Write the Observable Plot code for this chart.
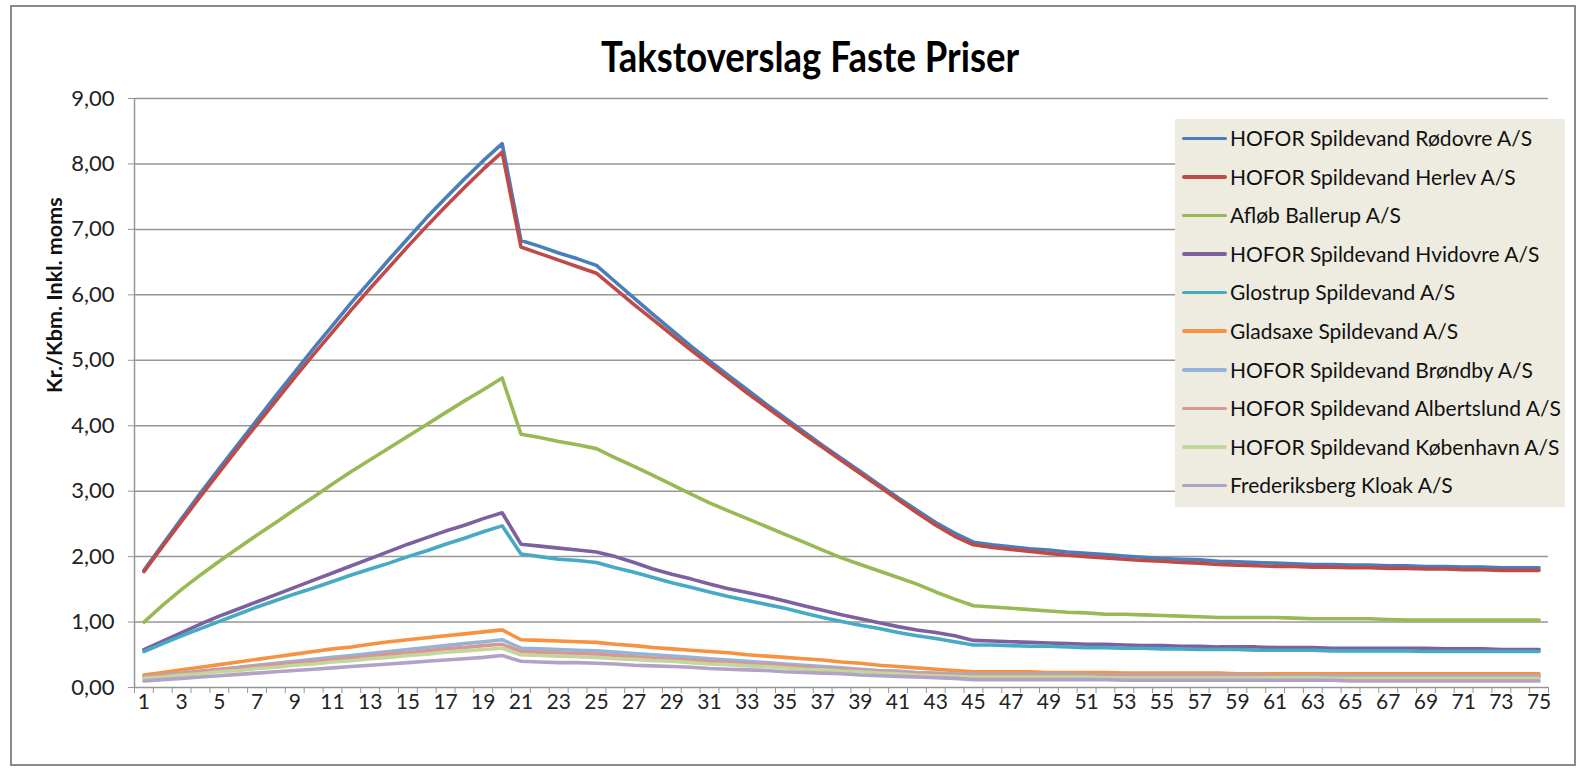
<!DOCTYPE html>
<html>
<head>
<meta charset="utf-8">
<script src="https://cdn.jsdelivr.net/npm/d3@7"></script>
<script src="https://cdn.jsdelivr.net/npm/@observablehq/plot@0.6"></script>
<style>
  html, body { margin: 0; padding: 0; background: #fff; }
  #wrap { position: relative; width: 1580px; height: 775px; overflow: hidden; font-family: Lato, "Noto Sans", sans-serif; }
  #frame { position: absolute; left: 10px; top: 5px; width: 1566px; height: 761px; border: 2px solid #8a8a8a; box-sizing: border-box; }
  #title { position: absolute; left: 810px; top: 56px; transform: translate(-50%, -50%) scaleY(1.15); font-weight: 700; font-size: 36.5px; color: #000; white-space: nowrap; }
  #chart { position: absolute; left: 0; top: 0; }
  #legend { position: absolute; left: 1175px; top: 119px; width: 390px; height: 388px; background: #EEECE1; }
  .row { position: relative; height: 38.6px; }
  .swatch { position: absolute; left: 7px; top: 17.5px; width: 45px; height: 3.5px; border-radius: 2px; }
  .lab { position: absolute; left: 55px; top: 0; line-height: 38.6px; font-size: 21px; color: #111; white-space: nowrap; }
</style>
</head>
<body>
<div id="wrap">
  <div id="frame"></div>
  <div id="chart"></div>
  <div id="title"></div>
  <div id="legend"></div>
</div>
<script>
const titleText = "Takstoverslag Faste Priser";
const yLabelText = "Kr./Kbm. Inkl. moms";

const steps = d3.range(1, 76);
const xTickLabels = d3.range(1, 76, 2);
const yTicks = [0, 1, 2, 3, 4, 5, 6, 7, 8, 9];

const seriesNames = [
  "HOFOR Spildevand Rødovre A/S",
  "HOFOR Spildevand Herlev A/S",
  "Afløb Ballerup A/S",
  "HOFOR Spildevand Hvidovre A/S",
  "Glostrup Spildevand A/S",
  "Gladsaxe Spildevand A/S",
  "HOFOR Spildevand Brøndby A/S",
  "HOFOR Spildevand Albertslund A/S",
  "HOFOR Spildevand København A/S",
  "Frederiksberg Kloak A/S"
];
const seriesColors = ["#4A7EBB", "#BE4B48", "#98B954", "#7D60A0", "#46AAC5", "#F69240", "#95B3D7", "#D99694", "#C3D69B", "#B3A2C7"];

const rodovre = [1.79, 2.19, 2.58, 2.97, 3.35, 3.72, 4.09, 4.46, 4.82, 5.18, 5.53, 5.88, 6.21, 6.54, 6.86, 7.18, 7.48, 7.77, 8.05, 8.31,
  6.83, 6.74, 6.64, 6.55, 6.45,
  6.20, 5.95, 5.70, 5.46, 5.22, 4.99, 4.77, 4.55, 4.33, 4.12, 3.91, 3.70, 3.50, 3.30, 3.10, 2.90, 2.71, 2.52, 2.36, 2.22,
  2.18, 2.15, 2.12, 2.10, 2.07, 2.05, 2.03, 2.01, 1.99, 1.97, 1.96, 1.95, 1.93, 1.92, 1.91, 1.90, 1.89, 1.88, 1.88, 1.87, 1.87, 1.86, 1.86, 1.85, 1.85, 1.84, 1.84, 1.83, 1.83, 1.83];
const herlev = [1.77, 2.16, 2.54, 2.92, 3.29, 3.66, 4.02, 4.38, 4.74, 5.09, 5.43, 5.77, 6.10, 6.42, 6.74, 7.05, 7.35, 7.64, 7.92, 8.18,
  6.73, 6.63, 6.53, 6.43, 6.33,
  6.09, 5.85, 5.62, 5.39, 5.16, 4.94, 4.72, 4.50, 4.29, 4.08, 3.87, 3.67, 3.47, 3.27, 3.07, 2.87, 2.67, 2.48, 2.31, 2.18,
  2.14, 2.11, 2.08, 2.05, 2.02, 2.00, 1.98, 1.96, 1.94, 1.93, 1.91, 1.90, 1.88, 1.87, 1.86, 1.85, 1.85, 1.84, 1.84, 1.83, 1.83, 1.82, 1.82, 1.81, 1.81, 1.80, 1.80, 1.79, 1.79, 1.79];
const ballerup = [1.00, 1.26, 1.50, 1.72, 1.93, 2.13, 2.33, 2.52, 2.72, 2.91, 3.11, 3.30, 3.48, 3.66, 3.84, 4.02, 4.20, 4.38, 4.55, 4.73,
  3.87, 3.82, 3.76, 3.71, 3.65, 3.51, 3.38, 3.24, 3.10, 2.96, 2.82, 2.70, 2.58, 2.46, 2.34, 2.22, 2.10, 1.98, 1.88, 1.78, 1.68, 1.58, 1.46, 1.35, 1.25,
  1.23, 1.21, 1.19, 1.17, 1.15, 1.14, 1.12, 1.12, 1.11, 1.10, 1.09, 1.08, 1.07, 1.07, 1.07, 1.07, 1.06, 1.05, 1.05, 1.05, 1.05, 1.04, 1.03, 1.03, 1.03, 1.03, 1.03, 1.03, 1.03, 1.03];
const hvidovre = [0.58, 0.71, 0.84, 0.97, 1.09, 1.20, 1.31, 1.42, 1.53, 1.64, 1.75, 1.86, 1.97, 2.08, 2.19, 2.29, 2.39, 2.48, 2.58, 2.67,
  2.19, 2.16, 2.13, 2.10, 2.07, 2.00, 1.91, 1.81, 1.73, 1.66, 1.58, 1.51, 1.45, 1.39, 1.32, 1.25, 1.18, 1.11, 1.05, 0.99, 0.93, 0.88, 0.84, 0.79, 0.72,
  0.71, 0.70, 0.69, 0.68, 0.67, 0.66, 0.66, 0.65, 0.64, 0.64, 0.63, 0.63, 0.62, 0.62, 0.62, 0.61, 0.61, 0.61, 0.60, 0.60, 0.60, 0.60, 0.60, 0.60, 0.59, 0.59, 0.59, 0.58, 0.58, 0.58];
const glostrup = [0.55, 0.67, 0.79, 0.90, 1.01, 1.12, 1.23, 1.33, 1.43, 1.52, 1.62, 1.72, 1.81, 1.90, 2.00, 2.09, 2.19, 2.28, 2.38, 2.47,
  2.04, 2.00, 1.96, 1.94, 1.91, 1.83, 1.76, 1.68, 1.60, 1.53, 1.46, 1.39, 1.33, 1.27, 1.21, 1.14, 1.07, 1.01, 0.95, 0.90, 0.84, 0.79, 0.75, 0.70, 0.65,
  0.65, 0.64, 0.63, 0.63, 0.62, 0.61, 0.61, 0.60, 0.60, 0.59, 0.59, 0.58, 0.58, 0.58, 0.57, 0.57, 0.57, 0.57, 0.56, 0.56, 0.56, 0.56, 0.56, 0.55, 0.55, 0.55, 0.55, 0.55, 0.55, 0.55];
const gladsaxe = [0.19, 0.23, 0.27, 0.31, 0.35, 0.39, 0.43, 0.47, 0.51, 0.55, 0.59, 0.62, 0.66, 0.70, 0.73, 0.76, 0.79, 0.82, 0.85, 0.88,
  0.73, 0.72, 0.71, 0.70, 0.69, 0.66, 0.64, 0.61, 0.59, 0.57, 0.55, 0.53, 0.50, 0.48, 0.46, 0.44, 0.42, 0.39, 0.37, 0.34, 0.32, 0.30, 0.28, 0.26, 0.24,
  0.24, 0.24, 0.24, 0.23, 0.23, 0.23, 0.23, 0.22, 0.22, 0.22, 0.22, 0.22, 0.22, 0.21, 0.21, 0.21, 0.21, 0.21, 0.21, 0.21, 0.21, 0.21, 0.21, 0.21, 0.21, 0.21, 0.21, 0.21, 0.21, 0.21];
const brondby = [0.16, 0.19, 0.22, 0.25, 0.28, 0.31, 0.34, 0.37, 0.40, 0.43, 0.46, 0.49, 0.52, 0.55, 0.58, 0.61, 0.64, 0.67, 0.70, 0.73,
  0.60, 0.59, 0.58, 0.57, 0.56, 0.54, 0.52, 0.50, 0.48, 0.46, 0.44, 0.42, 0.40, 0.38, 0.36, 0.34, 0.32, 0.30, 0.28, 0.26, 0.25, 0.23, 0.22, 0.21, 0.20,
  0.20, 0.20, 0.20, 0.20, 0.20, 0.19, 0.19, 0.19, 0.19, 0.19, 0.19, 0.19, 0.19, 0.19, 0.19, 0.18, 0.18, 0.18, 0.18, 0.18, 0.18, 0.18, 0.18, 0.18, 0.18, 0.18, 0.18, 0.18, 0.18, 0.18];
const albertslund = [0.15, 0.18, 0.21, 0.24, 0.27, 0.29, 0.32, 0.35, 0.37, 0.40, 0.43, 0.45, 0.48, 0.51, 0.53, 0.56, 0.59, 0.61, 0.64, 0.66,
  0.55, 0.54, 0.53, 0.52, 0.51, 0.49, 0.47, 0.45, 0.43, 0.42, 0.40, 0.38, 0.36, 0.35, 0.33, 0.31, 0.29, 0.28, 0.26, 0.24, 0.23, 0.21, 0.20, 0.19, 0.18,
  0.18, 0.18, 0.18, 0.18, 0.18, 0.17, 0.17, 0.17, 0.17, 0.17, 0.17, 0.17, 0.17, 0.17, 0.17, 0.17, 0.16, 0.16, 0.16, 0.16, 0.16, 0.16, 0.16, 0.16, 0.16, 0.16, 0.16, 0.16, 0.16, 0.16];
const kobenhavn = [0.14, 0.16, 0.19, 0.21, 0.24, 0.26, 0.29, 0.31, 0.34, 0.36, 0.39, 0.41, 0.44, 0.46, 0.49, 0.51, 0.54, 0.56, 0.58, 0.60,
  0.50, 0.49, 0.48, 0.47, 0.46, 0.44, 0.43, 0.41, 0.40, 0.38, 0.36, 0.35, 0.33, 0.32, 0.30, 0.28, 0.27, 0.25, 0.24, 0.22, 0.21, 0.19, 0.18, 0.17, 0.16,
  0.16, 0.16, 0.16, 0.16, 0.16, 0.16, 0.15, 0.15, 0.15, 0.15, 0.15, 0.15, 0.15, 0.15, 0.15, 0.15, 0.15, 0.15, 0.14, 0.14, 0.14, 0.14, 0.14, 0.14, 0.14, 0.14, 0.14, 0.14, 0.14, 0.14];
const frederiksberg = [0.10, 0.12, 0.14, 0.16, 0.18, 0.20, 0.22, 0.24, 0.26, 0.28, 0.30, 0.32, 0.34, 0.36, 0.38, 0.40, 0.42, 0.44, 0.46, 0.49,
  0.40, 0.39, 0.38, 0.38, 0.37, 0.36, 0.34, 0.33, 0.32, 0.31, 0.29, 0.28, 0.27, 0.26, 0.24, 0.23, 0.22, 0.21, 0.19, 0.18, 0.17, 0.16, 0.15, 0.14, 0.12,
  0.12, 0.12, 0.12, 0.12, 0.12, 0.12, 0.12, 0.11, 0.11, 0.11, 0.11, 0.11, 0.11, 0.11, 0.11, 0.11, 0.11, 0.11, 0.11, 0.10, 0.10, 0.10, 0.10, 0.10, 0.10, 0.10, 0.10, 0.10, 0.10, 0.10];

const seriesValues = [rodovre, herlev, ballerup, hvidovre, glostrup, gladsaxe, brondby, albertslund, kobenhavn, frederiksberg];

const data = seriesNames.flatMap((name, k) => seriesValues[k].map((v, i) => ({step: steps[i], value: v, series: name})));

const fmt = d => d.toFixed(2).replace(".", ",");
const halfTicks = d3.range(0, 76).map(i => i + 0.5);

const chart = Plot.plot({
  width: 1580,
  height: 775,
  marginLeft: 134,
  marginRight: 32,
  marginTop: 98,
  marginBottom: 88,
  x: {domain: [0.5, 75.5]},
  y: {domain: [0, 9]},
  color: {domain: seriesNames, range: seriesColors},
  style: {fontFamily: "Lato, 'Noto Sans', sans-serif", fontSize: "21px", color: "#222", background: "transparent"},
  marks: [
    Plot.gridY(yTicks, {stroke: "#969696", strokeOpacity: 1, strokeWidth: 1.5}),
    Plot.ruleX([0.5], {y1: 0, y2: 9, stroke: "#969696", strokeWidth: 1.5}),
    Plot.axisY({ticks: yTicks, tickFormat: fmt, tickSize: 6, tickPadding: 14, label: null, stroke: "#969696", fontSize: 22}),
    Plot.axisX({ticks: halfTicks, tickFormat: () => "", tickSize: 6, stroke: "#969696", label: null}),
    Plot.axisX({ticks: xTickLabels, tickSize: 0, tickPadding: 7, label: null, fontSize: 21}),
    Plot.lineY(data, {x: "step", y: "value", z: "series", stroke: "series", strokeWidth: 3.6, strokeLinejoin: "round", strokeLinecap: "round"}),
    Plot.text([yLabelText], {frameAnchor: "left", rotate: -90, dx: -79, fontWeight: "bold", fontSize: 21.5, fill: "#111"})
  ]
});
document.getElementById("chart").appendChild(chart);

document.getElementById("title").textContent = titleText;

const legend = document.getElementById("legend");
seriesNames.forEach((name, k) => {
  const row = document.createElement("div");
  row.className = "row";
  const sw = document.createElement("div");
  sw.className = "swatch";
  sw.style.background = seriesColors[k];
  const lab = document.createElement("div");
  lab.className = "lab";
  lab.textContent = name;
  row.appendChild(sw);
  row.appendChild(lab);
  legend.appendChild(row);
});
</script>
</body>
</html>
